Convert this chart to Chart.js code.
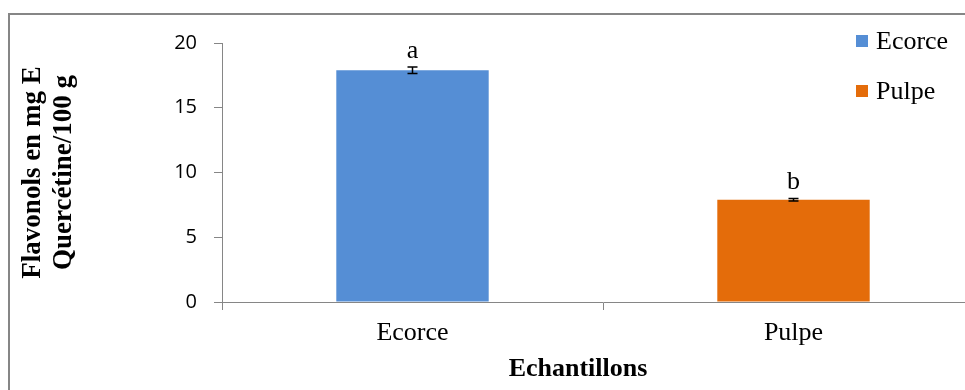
<!DOCTYPE html>
<html>
<head>
<meta charset="utf-8">
<script src="https://cdn.jsdelivr.net/npm/chart.js@4.4.1/dist/chart.umd.min.js"></script>
<style>
  html, body { margin: 0; padding: 0; background: #fff; overflow: hidden; width: 965px; height: 390px; }
  #frame { position: absolute; left: 8px; top: 13px; width: 1100px; height: 500px; border: 2px solid #868686; box-sizing: border-box; }
  #c { position: absolute; left: 0; top: 0; }
</style>
</head>
<body>
<div id="frame"></div>
<canvas id="c" width="1000" height="390"></canvas>
<script>
const categories = ['Ecorce', 'Pulpe'];
const values = [17.9, 7.9];
const errors = [0.25, 0.1];
const letters = ['a', 'b'];
const barColors = ['#558ED5', '#E46C0A'];
const yTicks = [0, 5, 10, 15, 20];
const xTitle = 'Echantillons';
const yTitle = ['Flavonols en mg E', 'Quercétine/100 g'];

const serif = '"Liberation Serif", "Times New Roman", serif';
const axisGray = '#868686';

const errorBarsPlugin = {
  id: 'errorBars',
  afterDatasetsDraw(chart) {
    const ctx = chart.ctx;
    const meta = chart.getDatasetMeta(0);
    const y = chart.scales.y;
    ctx.save();
    meta.data.forEach((bar, i) => {
      const x = bar.x;
      const top = y.getPixelForValue(values[i] + errors[i]);
      const bot = y.getPixelForValue(values[i] - errors[i]);
      ctx.strokeStyle = '#000';
      ctx.lineWidth = 1.5;
      ctx.beginPath();
      ctx.moveTo(x, top); ctx.lineTo(x, bot);
      ctx.moveTo(x - 5, top); ctx.lineTo(x + 5, top);
      ctx.moveTo(x - 5, bot); ctx.lineTo(x + 5, bot);
      ctx.stroke();
      ctx.fillStyle = '#000';
      ctx.font = '26px ' + serif;
      ctx.textAlign = 'center';
      ctx.textBaseline = 'alphabetic';
      ctx.fillText(letters[i], x, top - 9);
    });
    ctx.restore();
  }
};

const legendPlugin = {
  id: 'customLegend',
  afterDraw(chart) {
    const ctx = chart.ctx;
    const ca = chart.chartArea;
    const x0 = ca.right - 128;
    ctx.save();
    categories.forEach((lab, i) => {
      const cy = ca.top - 2 + i * 50;
      ctx.fillStyle = barColors[i];
      ctx.fillRect(x0, cy - 6, 12, 12);
      ctx.fillStyle = '#000';
      ctx.font = '26px ' + serif;
      ctx.textAlign = 'left';
      ctx.textBaseline = 'middle';
      ctx.fillText(lab, x0 + 20, cy + 1);
    });
    // x axis title (slightly left of the plot centre, as in the source)
    const xs = chart.scales.x;
    ctx.font = 'bold 26px ' + serif;
    ctx.textAlign = 'center';
    ctx.textBaseline = 'middle';
    ctx.fillText(xTitle, (ca.left + ca.right) / 2 - 25, xs.bottom - 21);
    ctx.restore();
  }
};

new Chart(document.getElementById('c'), {
  type: 'bar',
  data: {
    labels: categories,
    datasets: [{
      label: 'Flavonols',
      data: values,
      backgroundColor: barColors,
      borderWidth: 0,
      categoryPercentage: 1.0,
      barPercentage: 0.4
    }]
  },
  options: {
    responsive: false,
    devicePixelRatio: 1,
    animation: false,
    layout: { padding: { left: 0, top: 43, right: 16, bottom: 0 } },
    plugins: { legend: { display: false }, tooltip: { enabled: false } },
    scales: {
      x: {
        offset: true,
        grid: { display: true, drawOnChartArea: false, offset: true, tickLength: 8, color: axisGray },
        border: { display: true, color: axisGray, width: 1 },
        ticks: { color: '#000', font: { family: serif, size: 26, lineHeight: 1.2 }, padding: 8 },
        title: { display: false, text: xTitle },
        afterFit(s) { s.height = 88; s.paddingLeft = 0; s.paddingRight = 0; }
      },
      y: {
        min: 0, max: 20,
        afterBuildTicks(s) { s.ticks = yTicks.map(v => ({ value: v })); },
        grid: { display: true, drawOnChartArea: false, tickLength: 8, color: axisGray },
        border: { display: true, color: axisGray, width: 1 },
        ticks: { color: '#000', font: { family: '"Open Sans", sans-serif', size: 20 }, padding: 17 },
        title: { display: true, text: yTitle, color: '#000', font: { family: serif, size: 27, weight: 'bold', lineHeight: 1.17 }, padding: { top: 17, bottom: 0 } },
        afterFit(s) { s.width = 222; s.paddingTop = 0; s.paddingBottom = 0; }
      }
    }
  },
  plugins: [errorBarsPlugin, legendPlugin]
});
</script>
</body>
</html>
